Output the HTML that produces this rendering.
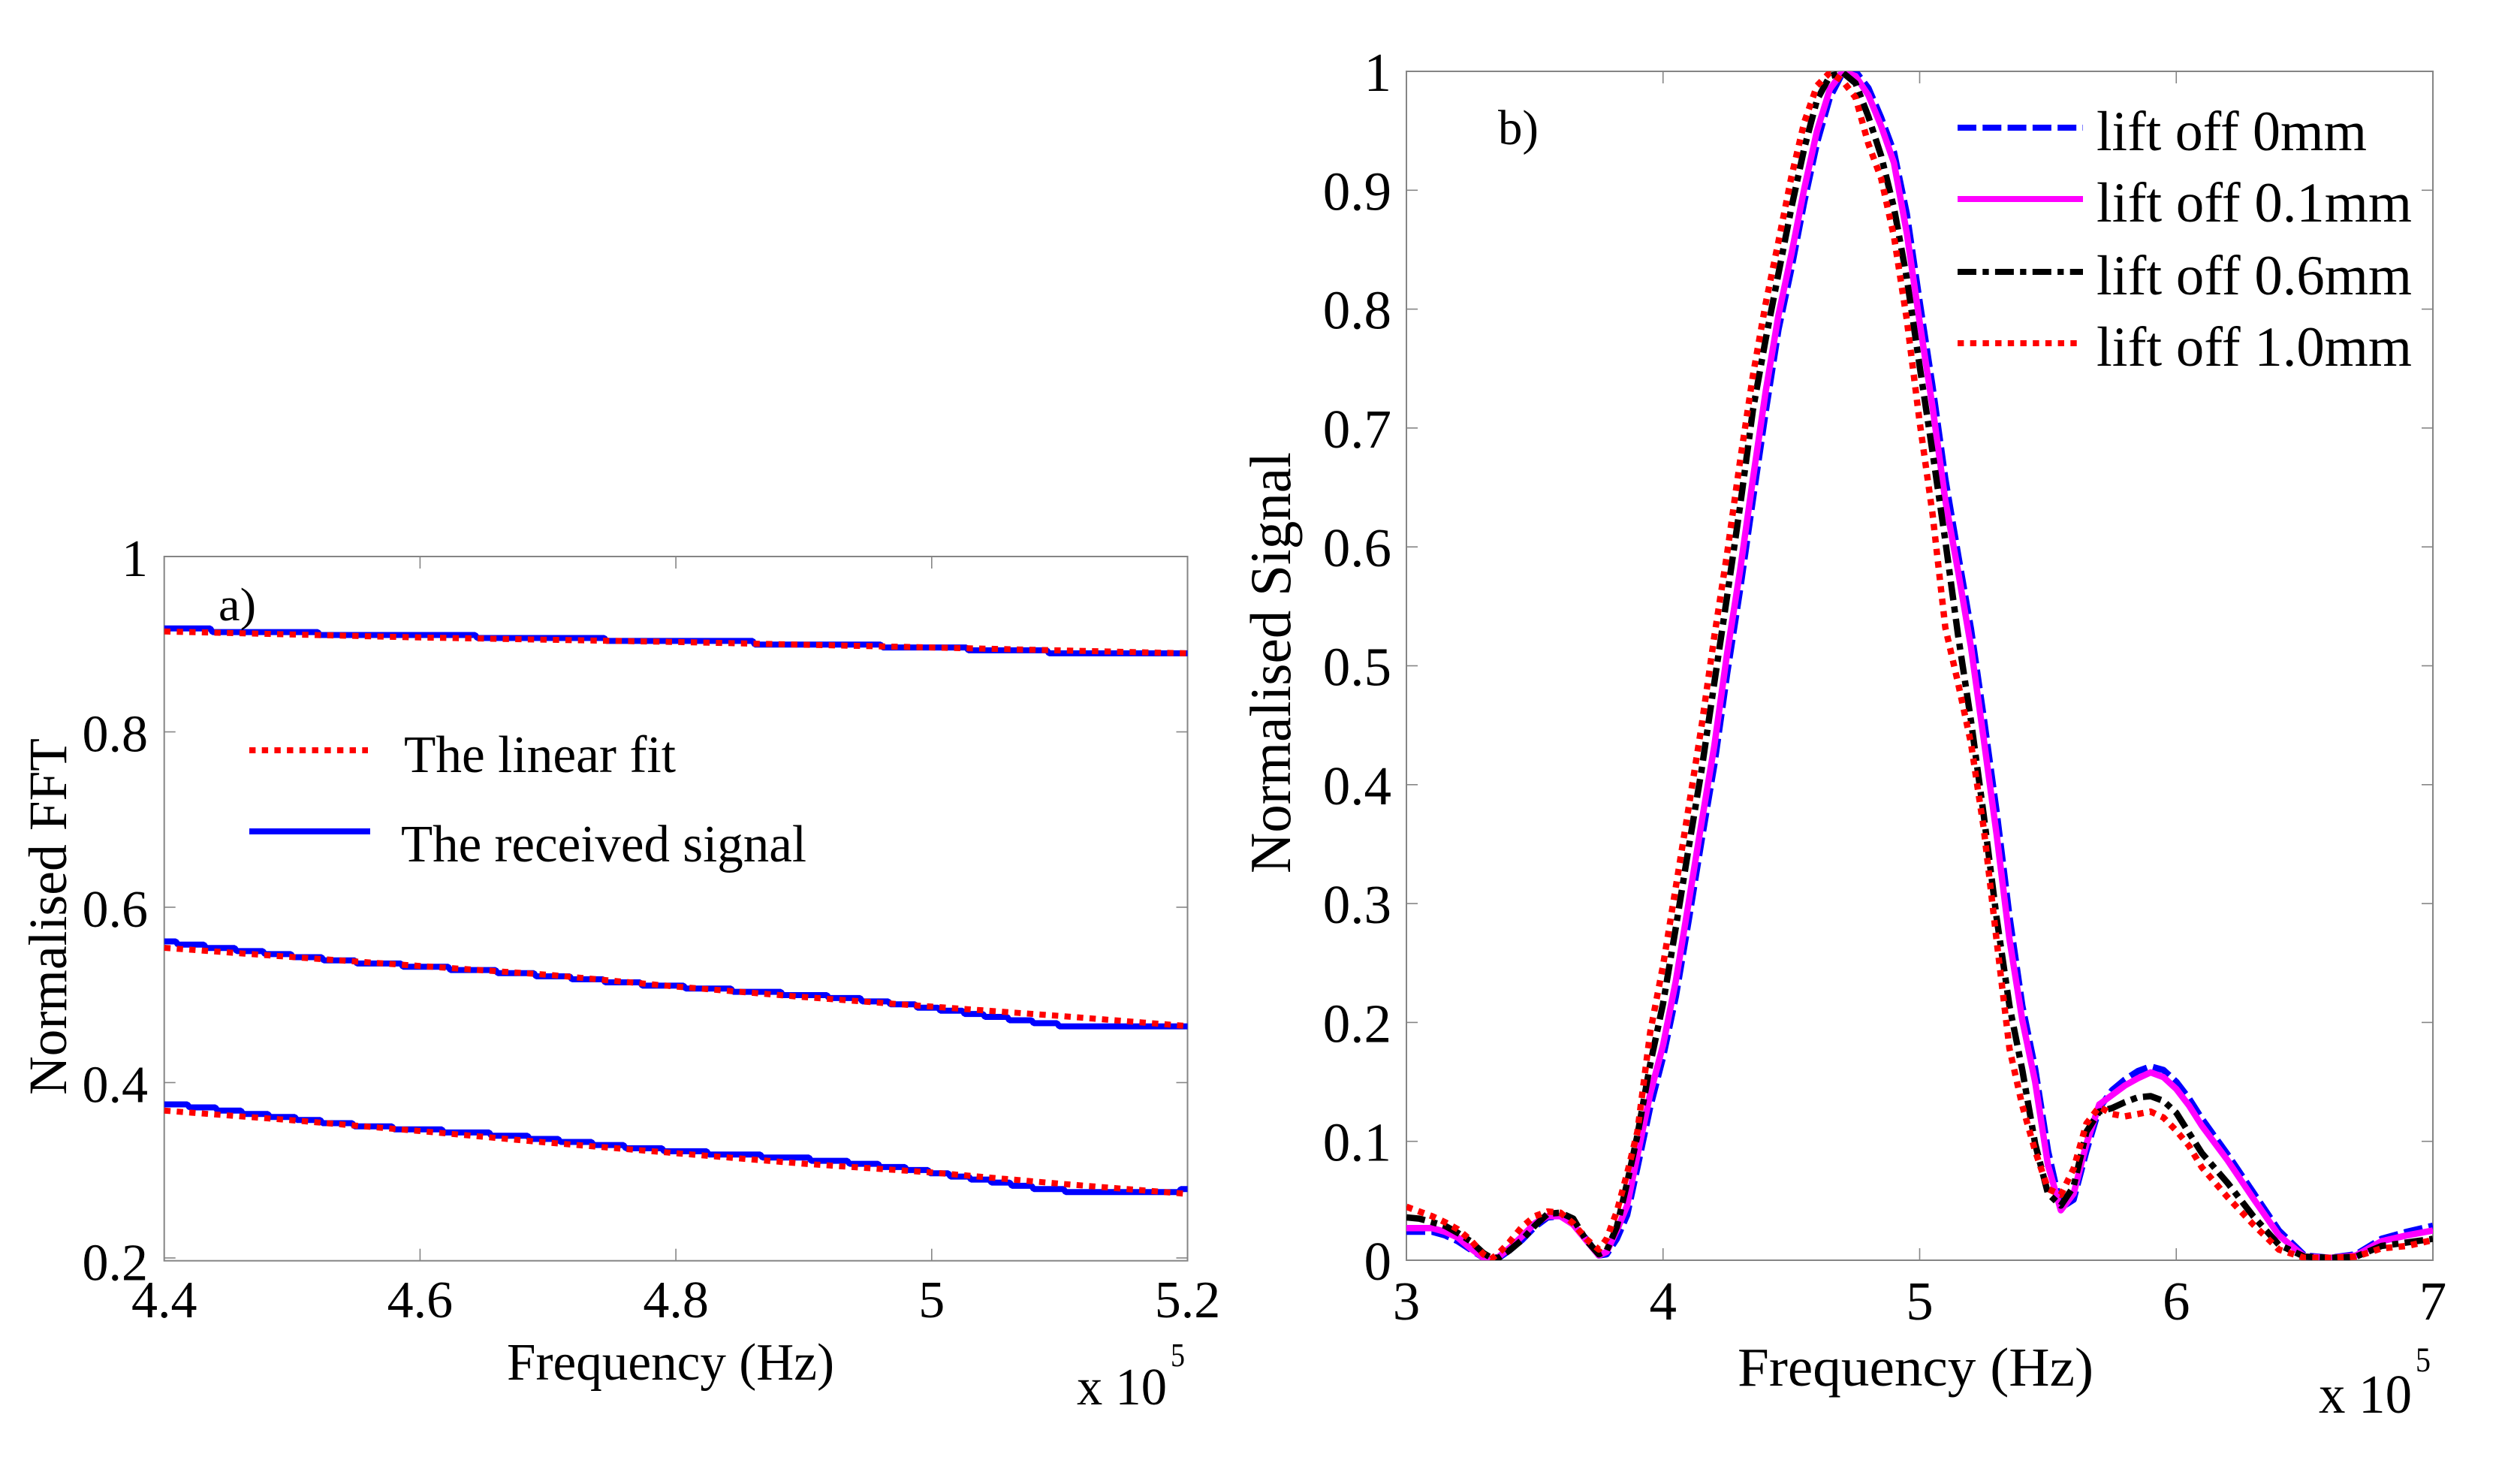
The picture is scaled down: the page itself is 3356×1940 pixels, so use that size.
<!DOCTYPE html>
<html lang="en">
<head>
<meta charset="utf-8">
<title>Normalised FFT and Normalised Signal charts</title>
<style>
html,body{margin:0;padding:0;background:#fff;width:3356px;height:1940px;overflow:hidden}
svg{display:block}
text{font-family:"Liberation Serif","Times New Roman",serif;fill:#000}
</style>
</head>
<body>
<svg id="figure" xmlns="http://www.w3.org/2000/svg" width="3356" height="1940" viewBox="0 0 3356 1940">
  <rect x="0" y="0" width="3356" height="1940" fill="#fff"/>
  <defs>
    <clipPath id="clip-a"><rect x="218.7" y="741" width="1362.8" height="937.7"/></clipPath>
    <clipPath id="clip-b"><rect x="1873" y="95" width="1367" height="1583"/></clipPath>
  </defs>

  <g id="panel-a"></g>
  <g id="panel-b"></g>

  <!-- Panel a static text -->
  <text x="291" y="826" font-size="62" textLength="50" lengthAdjust="spacingAndGlyphs">a)</text>
  <text transform="translate(88,1458) rotate(-90)" font-size="72" textLength="475" lengthAdjust="spacingAndGlyphs">Normalised FFT</text>
  <text x="675" y="1837" font-size="70" textLength="436" lengthAdjust="spacingAndGlyphs">Frequency (Hz)</text>
  <text x="1434" y="1870" font-size="70" textLength="120" lengthAdjust="spacingAndGlyphs">x 10</text>
  <text x="1559" y="1819" font-size="44" textLength="19" lengthAdjust="spacingAndGlyphs">5</text>

  <g>
    <line x1="332" y1="999" x2="490" y2="999" stroke="#ff0000" stroke-width="8" stroke-dasharray="8.4 8.3"/>
    <text x="538" y="1028" font-size="70" textLength="362" lengthAdjust="spacingAndGlyphs">The linear fit</text>
    <line x1="332" y1="1107" x2="493" y2="1107" stroke="#0000ff" stroke-width="8"/>
    <text x="534" y="1147" font-size="70" textLength="540" lengthAdjust="spacingAndGlyphs">The received signal</text>
  </g>

  <!-- Panel b static text -->
  <text x="1995" y="192" font-size="66" textLength="54" lengthAdjust="spacingAndGlyphs">b)</text>
  <text transform="translate(1718,1163) rotate(-90)" font-size="77" textLength="561" lengthAdjust="spacingAndGlyphs">Normalised Signal</text>
  <text x="2314" y="1845" font-size="73" textLength="474" lengthAdjust="spacingAndGlyphs">Frequency (Hz)</text>
  <text x="3088" y="1881" font-size="73" textLength="124" lengthAdjust="spacingAndGlyphs">x 10</text>
  <text x="3217" y="1826" font-size="47" textLength="20" lengthAdjust="spacingAndGlyphs">5</text>

  <g>
    <line x1="2607" y1="170" x2="2774" y2="170" stroke="#0000ff" stroke-width="8" stroke-dasharray="25 8.3"/>
    <text x="2792" y="200" font-size="75" textLength="360" lengthAdjust="spacingAndGlyphs">lift off 0mm</text>
    <line x1="2607" y1="265" x2="2774" y2="265" stroke="#ff00ff" stroke-width="8"/>
    <text x="2792" y="295" font-size="75" textLength="420" lengthAdjust="spacingAndGlyphs">lift off 0.1mm</text>
    <line x1="2607" y1="362" x2="2774" y2="362" stroke="#000000" stroke-width="8" stroke-dasharray="25 8.3 8.3 8.3"/>
    <text x="2792" y="392" font-size="75" textLength="420" lengthAdjust="spacingAndGlyphs">lift off 0.6mm</text>
    <line x1="2607" y1="457" x2="2774" y2="457" stroke="#ff0000" stroke-width="8" stroke-dasharray="8.4 8.3"/>
    <text x="2792" y="487" font-size="75" textLength="420" lengthAdjust="spacingAndGlyphs">lift off 1.0mm</text>
  </g>
</svg>

<script>
// ---------- Panel a: tick arrays ----------
const aXTicks = [4.4, 4.6, 4.8, 5, 5.2];
const aXTickLabels = ['4.4', '4.6', '4.8', '5', '5.2'];
const aYTicks = [0.2, 0.4, 0.6, 0.8, 1];
const aYTickLabels = ['0.2', '0.4', '0.6', '0.8', '1'];

// ---------- Panel a: received signal (stair-step levels, each level ends at the paired frequency) ----------
const receivedTopEnds = [4.436, 4.52, 4.643, 4.744, 4.86, 4.96, 5.027, 5.09, 5.2];
const receivedTopLevels = [0.9179, 0.9138, 0.9105, 0.9071, 0.9037, 0.8996, 0.8963, 0.893, 0.8896];

const receivedMidEnds = [4.409, 4.431, 4.455, 4.477, 4.499, 4.523, 4.549, 4.585, 4.622, 4.659, 4.689, 4.717, 4.743, 4.772, 4.806, 4.843, 4.882, 4.918, 4.944, 4.966, 4.987, 5.005, 5.024, 5.04, 5.059, 5.078, 5.098, 5.2];
const receivedMidLevels = [0.561, 0.5574, 0.5536, 0.55, 0.5465, 0.543, 0.5393, 0.5358, 0.5321, 0.5284, 0.5249, 0.5212, 0.5178, 0.5143, 0.5106, 0.5072, 0.5035, 0.4998, 0.4964, 0.4926, 0.4892, 0.4855, 0.482, 0.4783, 0.4749, 0.4711, 0.4677, 0.4641];

const receivedLowEnds = [4.418, 4.44, 4.46, 4.481, 4.502, 4.522, 4.547, 4.578, 4.617, 4.654, 4.684, 4.708, 4.734, 4.759, 4.789, 4.824, 4.866, 4.904, 4.934, 4.958, 4.979, 4.997, 5.013, 5.029, 5.045, 5.061, 5.078, 5.103, 5.193, 5.2];
const receivedLowLevels = [0.3751, 0.3717, 0.368, 0.3642, 0.3608, 0.3574, 0.3537, 0.35, 0.3466, 0.3431, 0.3394, 0.3357, 0.3323, 0.3288, 0.3251, 0.3217, 0.3179, 0.3145, 0.3108, 0.3074, 0.3037, 0.3003, 0.2965, 0.2928, 0.2894, 0.286, 0.2823, 0.2785, 0.2751, 0.2785];

// ---------- Panel a: linear fits ----------
const fitTopFreq = [4.4, 4.6, 4.8, 5.0, 5.2];
const fitTopValues = [0.9145, 0.9077, 0.9025, 0.8963, 0.8896];
const fitFreq = [4.4, 4.5, 4.6, 4.7, 4.8, 4.9, 5.0, 5.1, 5.2];
const fitMidValues = [0.5537, 0.5432, 0.533, 0.523, 0.5095, 0.4975, 0.4867, 0.476, 0.4645];
const fitLowValues = [0.368, 0.3571, 0.3447, 0.3315, 0.3195, 0.3075, 0.2975, 0.2847, 0.273];

// ---------- Panel b: tick arrays ----------
const bXTicks = [3, 4, 5, 6, 7];
const bXTickLabels = ['3', '4', '5', '6', '7'];
const bYTicks = [0, 0.1, 0.2, 0.3, 0.4, 0.5, 0.6, 0.7, 0.8, 0.9, 1];
const bYTickLabels = ['0', '0.1', '0.2', '0.3', '0.4', '0.5', '0.6', '0.7', '0.8', '0.9', '1'];

// ---------- Panel b: series ----------
const bFreq = [3.00,3.05,3.10,3.15,3.20,3.25,3.30,3.33,3.36,3.40,
  3.45,3.50,3.55,3.60,3.65,3.70,3.75,3.78,3.82,3.86,
  3.90,3.95,4.00,4.05,4.10,4.15,4.20,4.25,4.30,4.35,
  4.40,4.45,4.50,4.55,4.60,4.65,4.70,4.75,4.80,4.85,
  4.90,4.95,5.00,5.05,5.10,5.15,5.20,5.25,5.30,5.35,
  5.40,5.45,5.50,5.55,5.60,5.65,5.70,5.75,5.80,5.85,
  5.90,5.95,6.00,6.05,6.10,6.20,6.30,6.40,6.50,6.60,
  6.70,6.80,6.90,7.00];
const liftOff0 = [.024,.024,.024,.021,.016,.009,.002,.001,.002,.008,
  .017,.028,.036,.037,.031,.018,.004,.005,.018,.038,
  .078,.129,.171,.222,.286,.353,.417,.494,.564,.640,
  .714,.783,.834,.890,.940,.978,.999,1.0,.986,.961,
  .932,.880,.806,.735,.657,.593,.531,.456,.377,.289,
  .214,.161,.092,.044,.051,.092,.128,.143,.152,.159,
  .163,.160,.150,.136,.119,.089,.057,.025,.004,.002,
  .005,.018,.024,.029];
const liftOff01 = [.027,.027,.027,.024,.019,.010,.002,.001,.003,.010,
  .020,.031,.037,.037,.030,.017,.004,.007,.025,.046,
  .088,.140,.181,.235,.301,.368,.433,.511,.580,.657,
  .731,.795,.846,.901,.950,.985,1.0,.996,.980,.954,
  .923,.864,.789,.718,.639,.579,.516,.438,.358,.270,
  .202,.150,.080,.042,.056,.098,.131,.139,.147,.153,
  .158,.154,.144,.130,.113,.084,.052,.021,.003,.002,
  .004,.016,.021,.025];
const liftOff06 = [.036,.035,.032,.029,.023,.016,.006,.002,.002,.008,
  .017,.029,.039,.040,.035,.017,.005,.008,.028,.065,
  .105,.165,.216,.280,.347,.412,.486,.559,.634,.715,
  .775,.830,.885,.935,.976,.996,.999,.990,.962,.929,
  .885,.826,.752,.680,.605,.525,.454,.374,.288,.214,
  .160,.098,.056,.046,.062,.108,.125,.128,.133,.137,
  .138,.134,.124,.107,.090,.065,.037,.013,.003,.002,
  .003,.012,.015,.018];
const liftOff10 = [.045,.041,.037,.032,.026,.017,.005,.001,.006,.015,
  .028,.037,.041,.040,.031,.018,.009,.018,.041,.073,
  .108,.192,.248,.314,.381,.449,.525,.595,.672,.744,
  .805,.857,.911,.957,.988,.999,.992,.978,.939,.910,
  .861,.791,.705,.628,.532,.485,.435,.363,.269,.178,
  .130,.092,.060,.055,.077,.115,.129,.123,.121,.123,
  .125,.120,.109,.096,.078,.053,.030,.009,.002,.002,
  .003,.010,.012,.017];

// ---------- Drawing ----------
const SVG_NS = 'http://www.w3.org/2000/svg';
const AXIS_COLOR = '#858585';

function make(tag, attrs, parent) {
  const el = document.createElementNS(SVG_NS, tag);
  for (const k in attrs) el.setAttribute(k, attrs[k]);
  parent.appendChild(el);
  return el;
}

function scale(d0, d1, r0, r1) {
  return function (v) { return r0 + (v - d0) / (d1 - d0) * (r1 - r0); };
}

function drawAxes(parent, frame, xs, ys, xTicks, xLabels, yTicks, yLabels, opts) {
  const box = make('rect', {x: frame.left, y: frame.top, width: frame.right - frame.left, height: frame.bottom - frame.top, fill: 'none', stroke: AXIS_COLOR, 'stroke-width': 2}, parent);
  
  

  xTicks.forEach(function (t, i) {
    const x = xs(t);
    const bottomTick = make('line', {x1: x, x2: x, y1: frame.bottom, y2: frame.bottom - 16, stroke: AXIS_COLOR, 'stroke-width': 1.6}, parent);
    
    
    const topTick = make('line', {x1: x, x2: x, y1: frame.top, y2: frame.top + 16, stroke: AXIS_COLOR, 'stroke-width': 1.6}, parent);
    
    
    const label = make('text', {x: x, y: opts.xLabelY, 'font-size': opts.fontSize, 'text-anchor': 'middle'}, parent);
    label.textContent = xLabels[i];
    
    
  });

  yTicks.forEach(function (t, i) {
    const y = ys(t);
    const leftTick = make('line', {x1: frame.left, x2: frame.left + 15, y1: y, y2: y, stroke: AXIS_COLOR, 'stroke-width': 1.6}, parent);
    
    
    const rightTick = make('line', {x1: frame.right, x2: frame.right - 15, y1: y, y2: y, stroke: AXIS_COLOR, 'stroke-width': 1.6}, parent);
    
    
    const label = make('text', {x: opts.yLabelX, y: frame.bottom - y < 6 ? frame.bottom + 26 : y + 26, 'font-size': opts.fontSize, 'text-anchor': 'end'}, parent);
    label.textContent = yLabels[i];
    
    
  });
}

function linePath(freq, values, xs, ys) {
  return freq.map(function (f, i) {
    return (i ? 'L' : 'M') + xs(f).toFixed(1) + ' ' + ys(values[i]).toFixed(1);
  }).join(' ');
}

function stepPath(startFreq, ends, levels, xs, ys) {
  let d = 'M' + xs(startFreq).toFixed(1) + ' ' + ys(levels[0]).toFixed(1);
  ends.forEach(function (e, i) {
    d += ' L' + xs(e).toFixed(1) + ' ' + ys(levels[i]).toFixed(1);
    if (i + 1 < levels.length) {
      d += ' L' + (xs(e) + 3).toFixed(1) + ' ' + ys(levels[i + 1]).toFixed(1);
    }
  });
  return d;
}

// Panel a
const panelA = document.getElementById('panel-a');
const frameA = {left: 218.7, right: 1581.5, top: 741, bottom: 1678.7};
const xA = scale(4.4, 5.2, frameA.left, frameA.right);
const yA = scale(0.1968, 1, frameA.bottom, frameA.top);
drawAxes(panelA, frameA, xA, yA, aXTicks, aXTickLabels, aYTicks, aYTickLabels, {xLabelY: 1754, yLabelX: 197, fontSize: 70});

const receivedGroup = make('g', {'clip-path': 'url(#clip-a)'}, panelA);



const recTop = make('path', {d: stepPath(4.4, receivedTopEnds, receivedTopLevels, xA, yA), fill: 'none', stroke: '#0000ff', 'stroke-width': 8, 'stroke-linejoin': 'bevel'}, receivedGroup);


const recMid = make('path', {d: stepPath(4.4, receivedMidEnds, receivedMidLevels, xA, yA), fill: 'none', stroke: '#0000ff', 'stroke-width': 8, 'stroke-linejoin': 'bevel'}, receivedGroup);


const recLow = make('path', {d: stepPath(4.4, receivedLowEnds, receivedLowLevels, xA, yA), fill: 'none', stroke: '#0000ff', 'stroke-width': 8, 'stroke-linejoin': 'bevel'}, receivedGroup);



const fitTop = make('path', {d: linePath(fitTopFreq, fitTopValues, xA, yA), fill: 'none', stroke: '#ff0000', 'stroke-width': 8, 'stroke-dasharray': '8.4 8.3'}, receivedGroup);


const fitMid = make('path', {d: linePath(fitFreq, fitMidValues, xA, yA), fill: 'none', stroke: '#ff0000', 'stroke-width': 8, 'stroke-dasharray': '8.4 8.3'}, receivedGroup);


const fitLow = make('path', {d: linePath(fitFreq, fitLowValues, xA, yA), fill: 'none', stroke: '#ff0000', 'stroke-width': 8, 'stroke-dasharray': '8.4 8.3'}, receivedGroup);



// Panel b
const panelB = document.getElementById('panel-b');
const frameB = {left: 1873, right: 3240, top: 95, bottom: 1678};
const xB = scale(3, 7, frameB.left, frameB.right);
const yB = scale(0, 1, frameB.bottom, frameB.top);
drawAxes(panelB, frameB, xB, yB, bXTicks, bXTickLabels, bYTicks, bYTickLabels, {xLabelY: 1757, yLabelX: 1853, fontSize: 73});

const signalGroup = make('g', {'clip-path': 'url(#clip-b)'}, panelB);



const line0 = make('path', {d: linePath(bFreq, liftOff0, xB, yB), fill: 'none', stroke: '#0000ff', 'stroke-width': 8.5, 'stroke-dasharray': '25 8.3', 'stroke-linejoin': 'round'}, signalGroup);


const line01 = make('path', {d: linePath(bFreq, liftOff01, xB, yB), fill: 'none', stroke: '#ff00ff', 'stroke-width': 8.5, 'stroke-linejoin': 'round'}, signalGroup);


const line06 = make('path', {d: linePath(bFreq, liftOff06, xB, yB), fill: 'none', stroke: '#000000', 'stroke-width': 8.5, 'stroke-dasharray': '25 8.3 8.3 8.3', 'stroke-linejoin': 'round'}, signalGroup);


const line10 = make('path', {d: linePath(bFreq, liftOff10, xB, yB), fill: 'none', stroke: '#ff0000', 'stroke-width': 8.5, 'stroke-dasharray': '8.4 8.3', 'stroke-linejoin': 'round'}, signalGroup);


</script>
</body>
</html>
